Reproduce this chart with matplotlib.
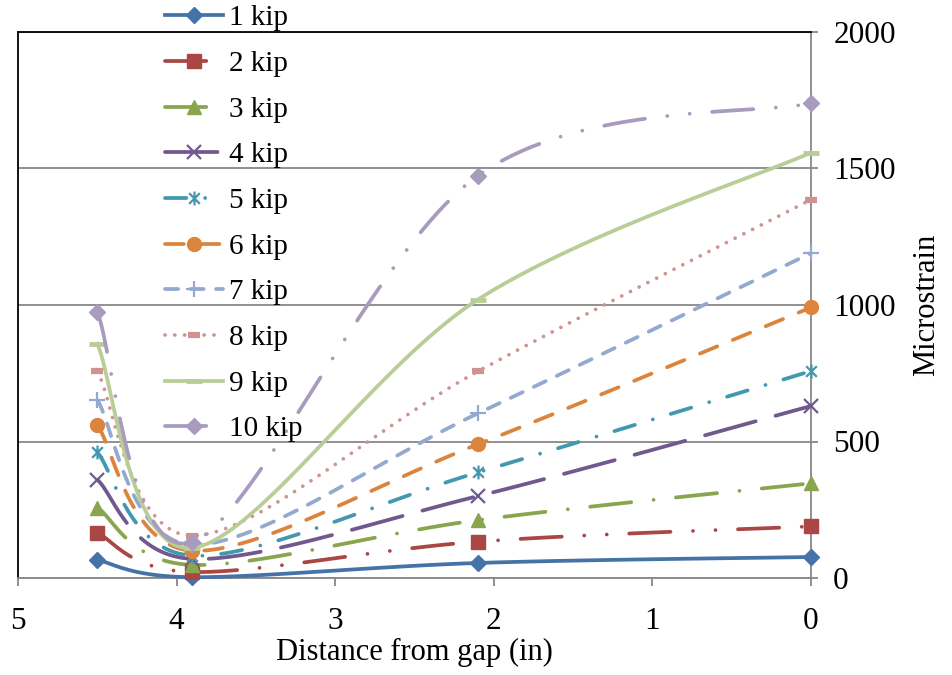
import numpy as np
from matplotlib import pyplot as plt
from matplotlib.path import Path

plt.rcParams['font.family'] = ['Liberation Serif', 'DejaVu Serif']

# distance from gap (in) of the gauges
distance = [4.5, 3.9, 2.1, 0.0]

labels = ['1 kip', '2 kip', '3 kip', '4 kip', '5 kip',
          '6 kip', '7 kip', '8 kip', '9 kip', '10 kip']

# microstrain at each gauge, one list per load step
kip1 = [66, 3, 55, 77]
kip2 = [165, 22, 133, 189]
kip3 = [258, 48, 212, 347]
kip4 = [360, 70, 300, 630]
kip5 = [460, 82, 387, 758]
kip6 = [560, 100, 490, 991]
kip7 = [652, 122, 603, 1190]
kip8 = [758, 155, 757, 1386]
kip9 = [858, 110, 1020, 1558]
kip10 = [975, 132, 1474, 1739]
series = [kip1, kip2, kip3, kip4, kip5, kip6, kip7, kip8, kip9, kip10]

colors = ['#4572A7', '#AA4643', '#89A54E', '#71588F', '#4198AF',
          '#DB843D', '#93A9CF', '#D19392', '#B9CD96', '#A99BBD']

M, L = Path.MOVETO, Path.LINETO
asterisk = Path([(-1, -1), (1, 1), (-1, 1), (1, -1), (0, -1.3), (0, 1.3)],
                [M, L, M, L, M, L])

markers = ['D', 's', '^', 'x', asterisk, 'o', '+', '_', '_', 'D']
msizes = [8, 10, 10, 10, 10, 10, 11, 9, 12, 8]
mews = [1, 1, 1, 1.6, 1.6, 1, 1.6, 4.5, 3.5, 1]

dot = 0.01
styles = ['-',
          (0, (11, 6, dot, 6, dot, 6)),
          (0, (11, 6, dot, 6)),
          (0, (14, 5.5)),
          (0, (5.7, 5, dot, 5)),
          (0, (5, 4.5)),
          (0, (3.5, 3.3)),
          (0, (dot, 2.6)),
          '-',
          (0, (11, 6, dot, 6, dot, 6))]


def excelSmooth(x, y, n=40):
  # bezier segments with catmull-rom style control points
  x = np.asarray(x, float)
  y = np.asarray(y, float)
  px = np.concatenate([[x[0]], x, [x[-1]]])
  py = np.concatenate([[y[0]], y, [y[-1]]])
  t = np.linspace(0, 1, n)[:, None]
  pts = []
  for i in range(len(x) - 1):
    p0 = np.array([px[i], py[i]])
    p1 = np.array([px[i + 1], py[i + 1]])
    p2 = np.array([px[i + 2], py[i + 2]])
    p3 = np.array([px[i + 3], py[i + 3]])
    c1 = p1 + (p2 - p0) / 6.0
    c2 = p2 - (p3 - p1) / 6.0
    seg = ((1 - t) ** 3 * p1 + 3 * (1 - t) ** 2 * t * c1
           + 3 * (1 - t) * t ** 2 * c2 + t ** 3 * p2)
    if i > 0:
      seg = seg[1:]
    pts.append(seg)
  pts = np.vstack(pts)
  idx = [i * (n - 1) for i in range(len(x))]
  return pts[:, 0], pts[:, 1], idx


fig = plt.figure(figsize=(9.53, 6.75), dpi=100)
ax = fig.add_axes([18 / 953, 97 / 675, (811 - 18) / 953, (578 - 32) / 675])

for vals, lab, c, mk, ms, mew, ls in zip(series, labels, colors, markers,
                                         msizes, mews, styles):
  sx, sy, idx = excelSmooth(distance, vals)
  ax.plot(sx, sy, color=c, lw=2.7, linestyle=ls, dash_capstyle='round',
          marker=mk, markersize=ms, markeredgewidth=mew, markevery=idx,
          markerfacecolor=c, markeredgecolor=c, label=lab, zorder=3,
          clip_on=False)

ax.set_xlim(5, 0)
ax.set_ylim(0, 2000)
ax.set_xticks([5, 4, 3, 2, 1, 0])
ax.set_yticks([0, 500, 1000, 1500, 2000])

ax.set_axisbelow(True)
ax.yaxis.grid(True, color='#888888', lw=1.3)
ax.yaxis.tick_right()
ax.yaxis.set_label_position('right')

for side in ['top', 'left']:
  ax.spines[side].set_color('black')
  ax.spines[side].set_linewidth(1.3)
for side in ['bottom', 'right']:
  ax.spines[side].set_color('#888888')
  ax.spines[side].set_linewidth(1.3)

ax.tick_params(axis='y', direction='out', length=5, width=1.3,
               color='#888888', pad=11, labelsize=22.5)
ax.tick_params(axis='x', direction='out', length=6, width=1.3,
               color='#888888', pad=15, labelsize=22.5)

ax.set_xlabel('Distance from gap (in)', fontsize=22, labelpad=1)
ax.set_ylabel('Microstrain', fontsize=22, labelpad=12)

fig.legend(loc='upper left', bbox_to_anchor=(165 / 953, 1 - 5 / 675),
           frameon=False, fontsize=21, borderpad=0, borderaxespad=0,
           labelspacing=0.66, handlelength=2.0, handletextpad=0.2)

fig.savefig('out.png', dpi=100)
